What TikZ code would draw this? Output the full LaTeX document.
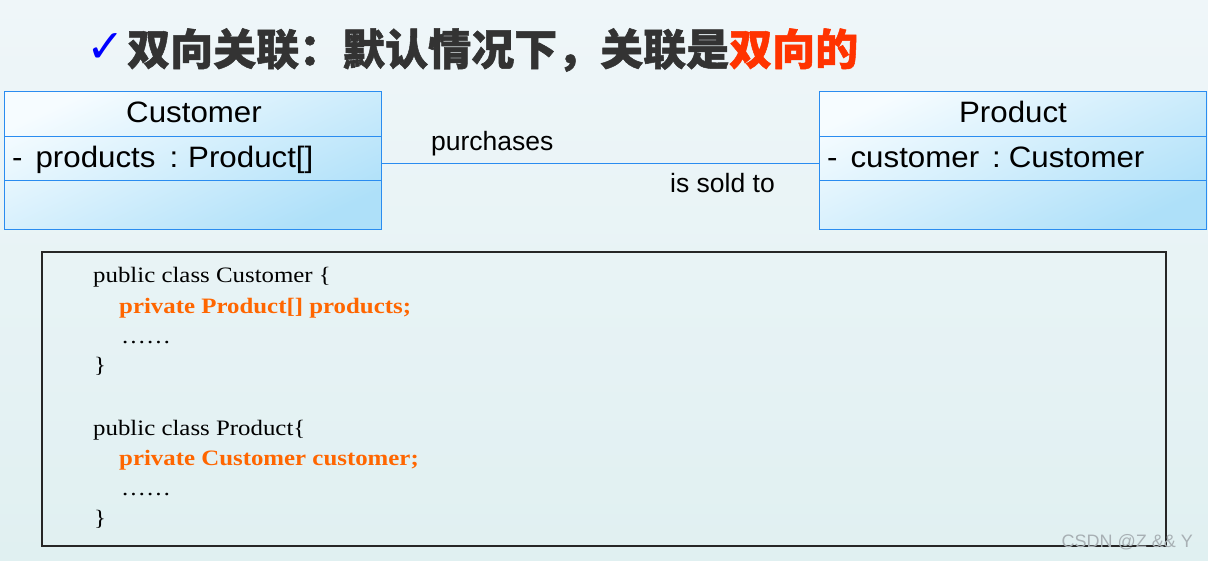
\documentclass[tikz,border=0pt]{standalone}
\usepackage{fontspec}
\setmainfont{Liberation Serif}
\newfontfamily\arialf{Liberation Sans}
\newfontfamily\umlf{Liberation Sans}[FakeStretch=1.06]
\newfontfamily\codef{Liberation Serif}[FakeStretch=1.13]
\newfontfamily\cjk{Noto Sans CJK SC}[BoldFeatures={FakeBold=1.2}]
\newfontfamily\dejavu{DejaVu Sans}
\definecolor{bgtop}{HTML}{EFF6F9}
\definecolor{bgbot}{HTML}{E0F0F1}
\definecolor{umlblue}{HTML}{2A8CF0}
\definecolor{boxlight}{HTML}{F6FCFF}
\definecolor{boxdark}{HTML}{AEE0F9}
\definecolor{titlegray}{HTML}{333333}
\definecolor{titlered}{HTML}{FF3300}
\definecolor{codeorange}{HTML}{FF6600}
\definecolor{wmgray}{HTML}{A8B0B4}
\tikzset{
  classbox/.style={draw=umlblue, line width=1pt, rectangle, inner sep=0pt,
    top color=boxlight, bottom color=boxdark, shading angle=25},
  classname/.style={font=\umlf\fontsize{29.5}{34}\selectfont, inner sep=0pt, anchor=base},
  attr/.style={font=\umlf\fontsize{29.5}{34}\selectfont, inner sep=0pt, anchor=base west},
  assoc/.style={draw=umlblue, line width=0.8pt},
  rolelabel/.style={font=\arialf\fontsize{26.5}{30}\selectfont, inner sep=0pt, anchor=west},
  codebox/.style={draw=black!85, line width=1.6pt, rectangle, inner sep=0pt},
  codeline/.style={font=\codef\fontsize{22}{26}\selectfont, inner sep=0pt, anchor=base west},
  codehl/.style={codeline, font=\codef\bfseries\fontsize{22}{26}\selectfont, text=codeorange},
}
\begin{document}
\begin{tikzpicture}[x=1pt,y=-1pt]
\useasboundingbox (0,0) rectangle (1208,560);
\shade[top color=bgtop, bottom color=bgbot] (0,0) rectangle (1208,560);

% title
\node[inner sep=0pt, anchor=west, text=blue, font=\dejavu\fontsize{46}{50}\selectfont] (check) at (86,48) {✓};
\node[inner sep=0pt, anchor=west, font=\cjk\bfseries\fontsize{43}{48}\selectfont, text=titlegray] (title) at (127,50)
  {双向关联：默认情况下，关联是\textcolor{titlered}{双向的}};

% Customer class
\node[classbox, minimum width=377pt, minimum height=138pt] (cust) at (192.5,160) {};
\draw[umlblue, line width=1pt] (4,136) coordinate (c1a) -- (381,136) coordinate (c1b);
\draw[umlblue, line width=1pt] (4,180) coordinate (c2a) -- (381,180) coordinate (c2b);
\node[classname] (custname) at (194,122) {Customer};
\node[attr] (custattr) at (12,167) {-\hspace{13pt}products\hspace{14pt}:\hspace{10pt}Product[]};

% Product class
\node[classbox, minimum width=387pt, minimum height=138pt] (prod) at (1012.5,160) {};
\draw[umlblue, line width=1pt] (819,136) coordinate (p1a) -- (1206,136) coordinate (p1b);
\draw[umlblue, line width=1pt] (819,180) coordinate (p2a) -- (1206,180) coordinate (p2b);
\node[classname] (prodname) at (1013,122) {Product};
\node[attr] (prodattr) at (827,167) {-\hspace{13pt}customer\hspace{13pt}:\hspace{8pt}Customer};

% association
\draw[assoc] ([yshift=-3pt]cust.east) -- ([yshift=-3pt]prod.west);
\node[rolelabel] (purch) at (431,144) {purchases};
\node[rolelabel] (sold) at (670,183) {is sold to};

% code box
\node[codebox, minimum width=1124pt, minimum height=294pt] (code) at (604,399) {};
\node[codeline] (l1) at (93,282) {public class Customer \{};
\node[codehl] (l2) at (119,313) {private Product[] products;};
\node[codeline] (l3) at (121,343) {……};
\node[codeline] (l4) at (94,372) {\}};
\node[codeline] (l5) at (93,435) {public class Product\{};
\node[codehl] (l6) at (119,465) {private Customer customer;};
\node[codeline] (l7) at (121,495) {……};
\node[codeline] (l8) at (94,525) {\}};

% watermark
\node[inner sep=0pt, anchor=east, text=wmgray, font=\arialf\fontsize{18}{20}\selectfont] (wm) at (1193,542) {CSDN @Z \&\& Y};
\end{tikzpicture}
\end{document}
